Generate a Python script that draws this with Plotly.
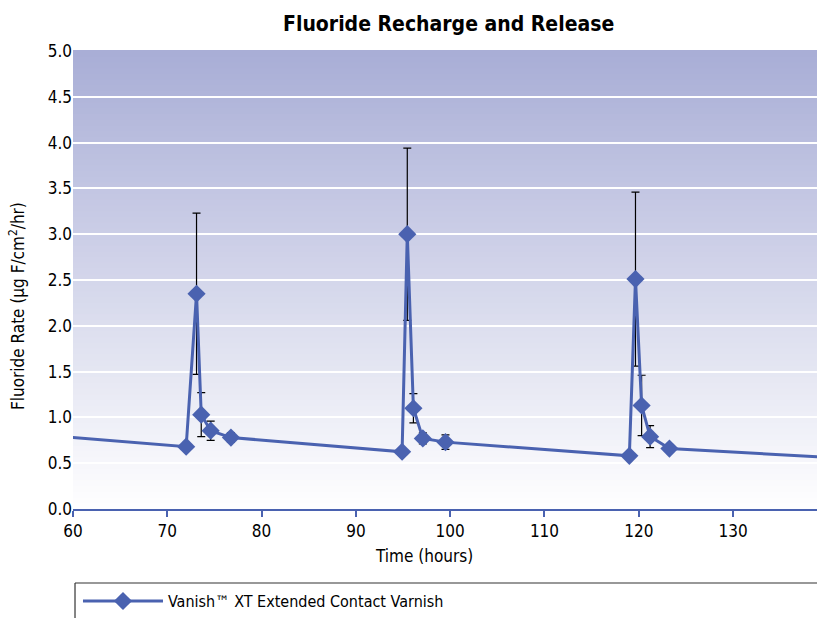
import plotly.graph_objects as go

# ---- data ----
time_hours = [48, 72.0, 73.1, 73.6, 74.6, 76.75, 94.9, 95.45, 96.1, 97.1, 99.5,
              119.0, 119.65, 120.3, 121.2, 123.25, 143]
fluoride_rate = [0.88, 0.68, 2.35, 1.03, 0.855, 0.78, 0.625, 3.0, 1.10, 0.77, 0.73,
                 0.58, 2.51, 1.13, 0.79, 0.66, 0.548]
rate_error = [None, None, 0.88, 0.24, 0.105, 0.05, None, 0.94, 0.16, 0.06, 0.08,
              None, 0.95, 0.33, 0.12, 0.04, None]
series_name = "Vanish\u2122 XT Extended Contact Varnish"
x_ticks = [60, 70, 80, 90, 100, 110, 120, 130]
y_ticks = [0.0, 0.5, 1.0, 1.5, 2.0, 2.5, 3.0, 3.5, 4.0, 4.5, 5.0]

FONT = "DejaVu Sans Condensed, Liberation Sans Narrow, sans-serif"
LINE = "#4a62b0"

fig = go.Figure()
fig.add_trace(go.Scatter(
    x=time_hours, y=fluoride_rate, name=series_name, mode="lines+markers",
    line=dict(color=LINE, width=3),
    marker=dict(symbol="diamond", size=14, color=LINE),
    error_y=dict(type="data", array=rate_error, visible=True, color="black",
                 thickness=1.2, width=4),
))

# vertical gradient background
top = (168, 173, 214)
bot = (255, 255, 255)
n = 80
shapes = []
for i in range(n):
    t = i / n
    c = tuple(round(bot[k] + (top[k] - bot[k]) * (t + 0.5 / n)) for k in range(3))
    shapes.append(dict(type="rect", xref="x domain", yref="y domain",
                       x0=0, x1=1, y0=t, y1=(i + 1) / n + 0.002,
                       fillcolor="rgb(%d,%d,%d)" % c, line=dict(width=0), layer="below"))
# legend frame (top and left edges only; the rest runs off the page)
frame = dict(color="#333333", width=1.2)
shapes.append(dict(type="line", xref="paper", yref="paper", x0=0.0027, x1=1.0,
                   y0=-0.1616, y1=-0.1616, line=frame))
shapes.append(dict(type="line", xref="paper", yref="paper", x0=0.0027, x1=0.0027,
                   y0=-0.1616, y1=-0.24, line=frame))

fig.update_layout(
    width=817, height=618,
    margin=dict(l=73, r=0, t=51, b=109, autoexpand=False),
    paper_bgcolor="white", plot_bgcolor="white",
    font=dict(family=FONT, size=17, color="black"),
    shapes=shapes,
    showlegend=True,
    legend=dict(x=0.0067, y=-0.164, xanchor="left", yanchor="top",
                font=dict(family=FONT, size=16), bgcolor="rgba(0,0,0,0)",
                itemwidth=80),
    annotations=[
        dict(text="<b>Fluoride Recharge and Release</b>", xref="paper", yref="paper",
             x=0.505, y=1.0, yshift=27, showarrow=False, xanchor="center", yanchor="middle",
             font=dict(family=FONT, size=21)),
        dict(text="Time (hours)", xref="paper", yref="paper", x=0.472, y=0,
             yshift=-47, showarrow=False, xanchor="center", yanchor="middle",
             font=dict(family=FONT, size=17)),
        dict(text="Fluoride Rate (\u00b5g F/cm<sup>2</sup>/hr)", xref="paper", yref="paper",
             x=0, xshift=-56, y=0.443, showarrow=False, textangle=-90,
             xanchor="center", yanchor="middle", font=dict(family=FONT, size=17)),
    ],
)
fig.update_xaxes(range=[60, 138.9], tickvals=x_ticks, showgrid=False, zeroline=False,
                 showline=True, linecolor=LINE, linewidth=2, ticks="outside",
                 tickcolor=LINE, ticklen=6, tickwidth=1.5, automargin=False)
fig.update_yaxes(range=[0, 5], tickvals=y_ticks, tickformat=".1f", showgrid=True,
                 gridcolor="white", gridwidth=1.5, zeroline=False, showline=False,
                 ticks="", automargin=False)

fig.write_html("out.html",
               config={"displayModeBar": False},
               post_script="document.body.style.margin='0';"
                           "document.body.style.overflow='hidden';")
